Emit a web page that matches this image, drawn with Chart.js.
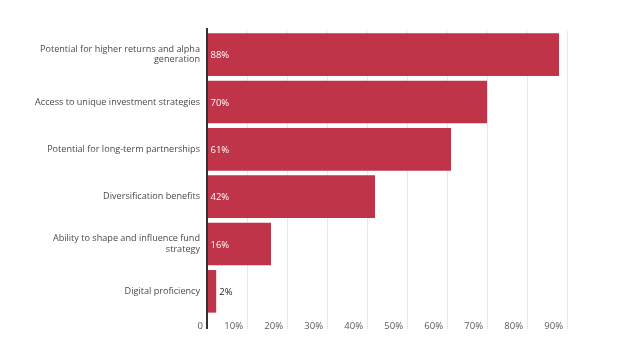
<!DOCTYPE html>
<html lang="en">
<head>
    <meta charset="UTF-8">
    <title>Reasons for investing</title>
    <script src="https://cdn.jsdelivr.net/npm/chart.js"></script>
    <style>
        html, body { margin: 0; padding: 0; background: #fff; }
        #chartContainer { width: 624px; height: 359px; }
    </style>
</head>
<body>
    <div id="chartContainer">
        <canvas id="reasonsChart"></canvas>
    </div>

    <script>
        var categories = [
            ['Potential for higher returns and alpha', 'generation'],
            'Access to unique investment strategies',
            'Potential for long-term partnerships',
            'Diversification benefits',
            ['Ability to shape and influence fund', 'strategy'],
            'Digital proficiency'
        ];
        var shares = [88, 70, 61, 42, 16, 2.3];
        var shareLabels = ['88%', '70%', '61%', '42%', '16%', '2%'];
        var xTicks = [0, 10, 20, 30, 40, 50, 60, 70, 80, 90];

        var FONT = "'Open Sans', sans-serif";
        var barColor = '#bf3449';

        // draws the value text at the start of each bar
        var valueLabels = {
            id: 'valueLabels',
            afterDatasetsDraw(chart) {
                var ctx = chart.ctx;
                var meta = chart.getDatasetMeta(0);
                ctx.save();
                ctx.font = '9.5px ' + FONT;
                ctx.textBaseline = 'middle';
                ctx.textAlign = 'left';
                meta.data.forEach(function (bar, i) {
                    var inside = (bar.x - bar.base) > 30;
                    ctx.fillStyle = inside ? '#ffffff' : '#1a1a1a';
                    var x = inside ? bar.base + 3 : bar.x + 3;
                    ctx.fillText(shareLabels[i], x, bar.y + 1);
                });
                ctx.restore();
            }
        };

        // left axis line, running a little above the first bar
        var axisLine = {
            id: 'axisLine',
            afterDatasetsDraw(chart) {
                var a = chart.chartArea;
                var ctx = chart.ctx;
                ctx.save();
                ctx.strokeStyle = '#333333';
                ctx.lineWidth = 2;
                ctx.beginPath();
                ctx.moveTo(a.left, a.top - 3);
                ctx.lineTo(a.left, a.bottom + 14);
                ctx.stroke();
                ctx.restore();
            }
        };

        var ctx = document.getElementById('reasonsChart').getContext('2d');
        new Chart(ctx, {
            type: 'bar',
            data: {
                labels: categories,
                datasets: [{
                    data: shares,
                    backgroundColor: barColor,
                    borderWidth: 0,
                    barPercentage: 0.9,
                    categoryPercentage: 1
                }]
            },
            plugins: [valueLabels, axisLine],
            options: {
                indexAxis: 'y',
                responsive: true,
                maintainAspectRatio: false,
                animation: false,
                layout: { padding: { top: 31, right: 57, bottom: 0, left: 0 } },
                plugins: {
                    legend: { display: false },
                    tooltip: { enabled: false }
                },
                scales: {
                    x: {
                        min: 0,
                        max: 90,
                        afterBuildTicks: function (axis) {
                            axis.ticks = xTicks.map(function (v) { return { value: v }; });
                        },
                        border: { display: false },
                        grid: {
                            drawTicks: true,
                            tickLength: 14,
                            color: function (c) { return c.tick && c.tick.value === 0 ? 'rgba(0,0,0,0)' : '#e8e8e8'; }
                        },
                        ticks: {
                            align: 'end',
                            labelOffset: -4,
                            padding: -8,
                            color: '#5a5a5a',
                            font: { family: FONT, size: 9.5 },
                            maxRotation: 0,
                            callback: function (v) { return v === 0 ? '0' : v + '%'; }
                        },
                        afterFit: function (axis) { axis.height = 44; }
                    },
                    y: {
                        border: { display: false },
                        grid: { display: false, drawTicks: false },
                        ticks: {
                            color: '#4a4a4a',
                            padding: 7,
                            font: { family: FONT, size: 9.1, lineHeight: 1.15 }
                        },
                        afterFit: function (axis) { axis.width = 207; }
                    }
                }
            }
        });
    </script>
</body>
</html>
